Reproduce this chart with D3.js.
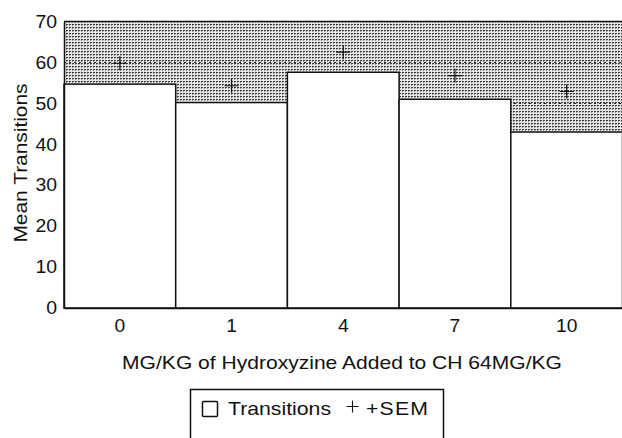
<!DOCTYPE html>
<html><head><meta charset="utf-8">
<script src="https://cdn.jsdelivr.net/npm/d3@7"></script>
<style>html,body{margin:0;padding:0;background:#fff;} svg{display:block;}</style>
</head><body>
<svg id="chart" width="622" height="438"></svg>
<script>
const categories = ["0", "1", "4", "7", "10"];
const transitions = [54.7, 50.2, 57.6, 51.0, 43.0];
const semTop = [59.8, 54.3, 62.5, 56.8, 52.9];
const yTicks = [0, 10, 20, 30, 40, 50, 60, 70];
const gridValues = [10, 20, 30, 40, 50, 60];
const legendLabels = ["Transitions", "+SEM"];
const xTitle = "MG/KG of Hydroxyzine Added to CH 64MG/KG";
const yTitle = "Mean Transitions";

const FONT = "'Liberation Sans', Arial, Helvetica, sans-serif";
const INK = "#111";

const svg = d3.select("#chart");
const plotL = 64, plotR = 622.5, plotT = 21.5, plotB = 308;
const x = d3.scaleBand().domain(categories).range([plotL, plotR]).padding(0);
const y = d3.scaleLinear().domain([0, 70]).range([plotB, plotT]);

const defs = svg.append("defs");
const pat = defs.append("pattern").attr("id", "stipple")
  .attr("patternUnits", "userSpaceOnUse").attr("width", 3).attr("height", 3);
pat.append("rect").attr("width", 3).attr("height", 3).attr("fill", "#e6e6e6");
pat.append("rect").attr("width", 2).attr("height", 1).attr("fill", "#3a3a3a");
pat.append("rect").attr("y", 1).attr("width", 1).attr("height", 1).attr("fill", "#8a8a8a");

// plot background
svg.append("rect").attr("x", plotL).attr("y", plotT)
  .attr("width", plotR - plotL).attr("height", plotB - plotT)
  .attr("fill", "url(#stipple)");

// dotted gridlines
svg.append("g").selectAll("line").data(gridValues).join("line")
  .attr("x1", plotL).attr("x2", plotR)
  .attr("y1", d => Math.round(y(d)) + 0.5).attr("y2", d => Math.round(y(d)) + 0.5)
  .attr("stroke", "#222").attr("stroke-width", 1).attr("stroke-dasharray", "2,3");

// top border
svg.append("line").attr("x1", plotL).attr("x2", plotR)
  .attr("y1", y(70)).attr("y2", y(70)).attr("stroke", INK).attr("stroke-width", 1.3);

// bars
const rows = categories.map((c, i) => ({c, v: transitions[i], s: semTop[i]}));
svg.append("g").selectAll("rect").data(rows).join("rect")
  .attr("x", d => x(d.c)).attr("y", d => y(d.v))
  .attr("width", x.bandwidth()).attr("height", d => plotB - y(d.v))
  .attr("fill", "#fff").attr("stroke", INK).attr("stroke-width", 1.5);

// +SEM markers
const arm = 7;
svg.append("g").selectAll("path").data(rows).join("path")
  .attr("d", d => {
    const cx = x(d.c) + x.bandwidth() / 2, cy = y(d.s);
    return `M${cx - arm},${cy}H${cx + arm}M${cx},${cy - arm}V${cy + arm}`;
  })
  .attr("stroke", INK).attr("stroke-width", 1.2).attr("fill", "none");

// y axis
const yAxis = svg.append("g").attr("transform", `translate(${plotL},0)`)
  .call(d3.axisLeft(y).tickValues(yTicks).tickSize(0).tickPadding(7).tickFormat(d3.format("d")));
yAxis.select(".domain").attr("stroke", INK).attr("stroke-width", 1.5);
yAxis.selectAll("text").style("font-family", FONT).style("font-size", "18px")
  .attr("fill", INK).attr("x", -7 / 1.08).attr("transform", "scale(1.08,1)");

// x axis
const xAxis = svg.append("g").attr("transform", `translate(0,${plotB})`)
  .call(d3.axisBottom(x).tickSize(0).tickPadding(12));
xAxis.select(".domain").attr("stroke", INK).attr("stroke-width", 1.6);
xAxis.selectAll("text").style("font-family", FONT).style("font-size", "17.5px")
  .attr("fill", INK).attr("transform", "scale(1.1,1)");

// titles
svg.append("text").attr("transform", `translate(342,368.5) scale(1.17,1)`)
  .attr("text-anchor", "middle").style("font-family", FONT).style("font-size", "18px")
  .attr("fill", INK).text(xTitle);
svg.append("text").attr("transform", `translate(27,163) rotate(-90) scale(1.1,1)`)
  .attr("text-anchor", "middle").style("font-family", FONT).style("font-size", "19px")
  .attr("fill", INK).text(yTitle);

// legend
const lg = svg.append("g");
lg.append("rect").attr("x", 190.5).attr("y", 389.5).attr("width", 253).attr("height", 70)
  .attr("fill", "#fff").attr("stroke", INK).attr("stroke-width", 1.5);
lg.append("rect").attr("x", 202.5).attr("y", 401.5).attr("width", 15).attr("height", 15)
  .attr("rx", 1).attr("fill", "#fff").attr("stroke", INK).attr("stroke-width", 1.5);
lg.append("text").attr("transform", `translate(228,414.5) scale(1.18,1)`)
  .style("font-family", FONT).style("font-size", "18px").attr("fill", INK).text(legendLabels[0]);
lg.append("path").attr("d", `M346.5,406.5H358.5M352.5,400.5V412.5`)
  .attr("stroke", INK).attr("stroke-width", 1.1).attr("fill", "none");
lg.append("text").attr("transform", `translate(366,414.5) scale(1.18,1)`)
  .style("font-family", FONT).style("font-size", "18px").style("letter-spacing", "1px")
  .attr("fill", INK).text(legendLabels[1]);
</script>
</body></html>
